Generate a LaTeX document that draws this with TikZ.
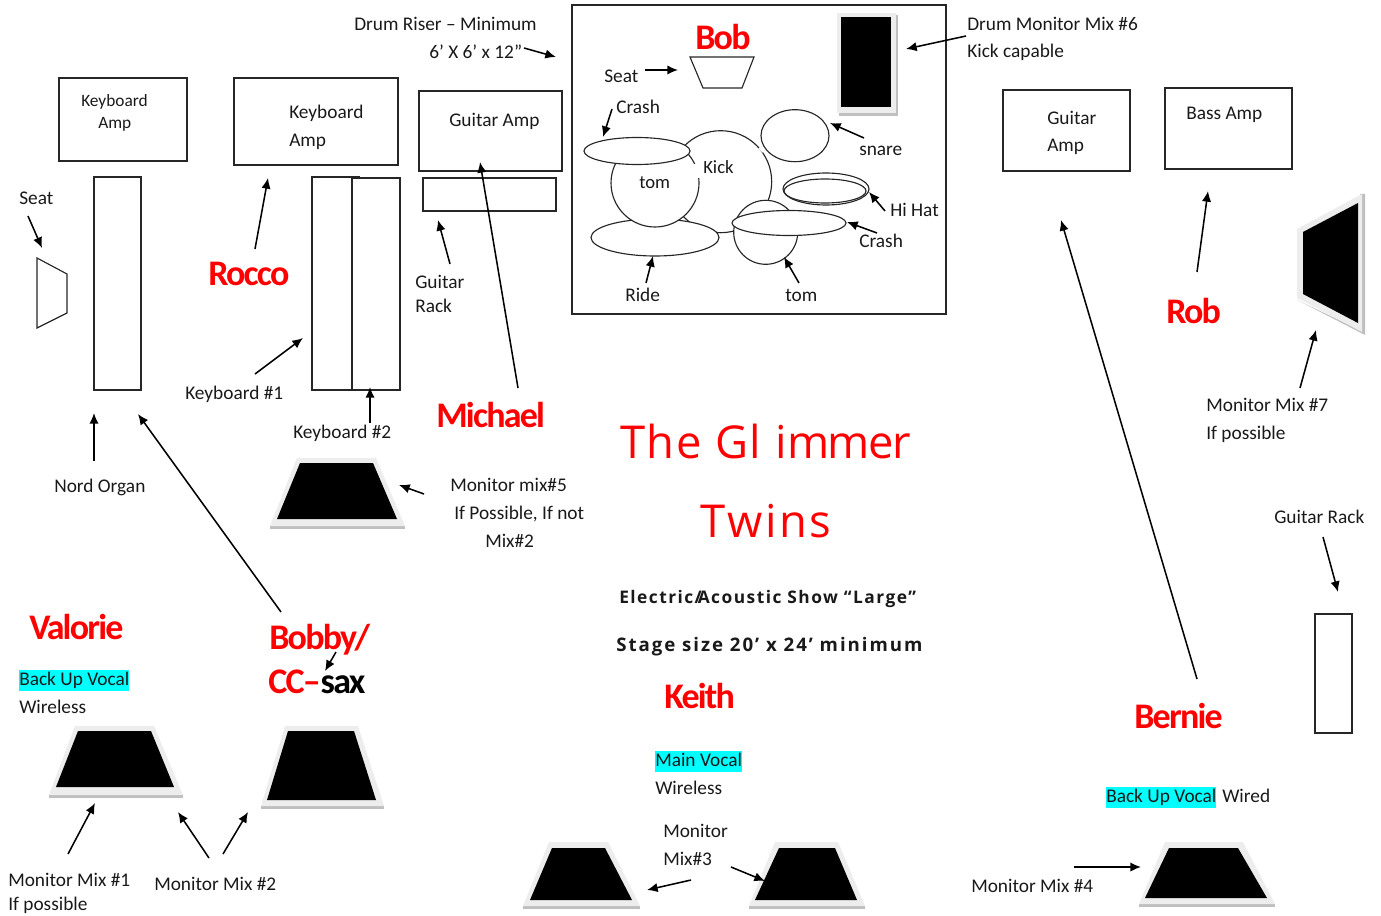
\documentclass[tikz,border=0pt]{standalone}
\usepackage{fontspec}
\usetikzlibrary{arrows.meta}
\setmainfont{Carlito}
\newfontfamily\namefont[LetterSpace=-5]{Carlito Bold}
\newfontfamily\titlefont[LetterSpace=6]{Open Sans}
\newfontfamily\titlemid[LetterSpace=3.5]{Open Sans}
\newfontfamily\titletight[LetterSpace=-3]{Open Sans}
\newfontfamily\subfont[LetterSpace=8.5]{Open Sans Bold}
\newfontfamily\subwide[LetterSpace=10.5]{Open Sans Bold}
\definecolor{monrim}{gray}{0.93}
\definecolor{monedge}{gray}{0.75}
\definecolor{hlcyan}{RGB}{0,255,255}
\tikzset{
  lbl/.style={anchor=base west,inner sep=0pt,yshift=-0.75pt,font=\fontsize{14.5}{16}\selectfont,text=black!90},
  small/.style={lbl,font=\fontsize{13}{15}\selectfont},
  who/.style={anchor=base west,inner sep=0pt,font=\namefont\fontsize{27}{30}\selectfont,text=red},
  ttl/.style={anchor=base west,inner sep=0pt,font=\titlefont\fontsize{34}{38}\selectfont,text=red},
  subt/.style={anchor=base west,inner sep=0pt,font=\subfont\fontsize{13}{15}\selectfont,text=black!90},
  hl/.style={lbl,fill=hlcyan,text height=11.5pt,text depth=4.5pt},
  line/.style={draw=black!85,line width=0.85pt},
  part/.style={line,fill=white},
  conn/.style={draw=black,line width=1.15pt,-{Latex[length=8pt,width=7pt]}}
}
\newcommand{\conn}[3]{\coordinate (#1a) at (#2);\coordinate (#1b) at (#3);\draw[conn] (#1a) -- (#1b);}
% monitor: outer 4 points, inner 4 points (TL,TR,BR,BL)
\newcommand{\mon}[8]{%
  \fill[monedge] ([yshift=-2.2pt]#3) -- ([yshift=-2.2pt]#4) -- (#4) -- (#3) -- cycle;
  \fill[monrim] (#1) -- (#2) -- (#3) -- (#4) -- cycle;
  \fill[black] (#5) -- (#6) -- (#7) -- (#8) -- cycle;}
\begin{document}
\begin{tikzpicture}[x=0.75pt,y=-0.75pt]
\useasboundingbox (0,0) rectangle (1381,916);
% boxes
\draw[line] (59,78) rectangle (187,161);
\draw[line] (234,78) rectangle (398,165);
\draw[line] (419,91) rectangle (562,171);
\draw[line] (423,178) rectangle (556,211);
\draw[line] (94,177) rectangle (141,390);
\draw[line] (312,177) rectangle (359,390);
\draw[part] (352,178) rectangle (400,390);
\draw[line] (37,258) -- (67,274) -- (67,313) -- (37,328) -- cycle;
\draw[line] (1003,90) rectangle (1130,171);
\draw[line] (1165,88) rectangle (1292,169);
\draw[line] (1315,614) rectangle (1352,733);
\draw[line,line width=1pt] (572,5) rectangle (946,314);
\draw[line] (690,57) -- (754,57) -- (742,88) -- (703,88) -- cycle;
% drum monitor
\fill[monedge] (839,15) rectangle (898,116);
\fill[monrim] (837,13) rectangle (896,113);
\fill[black] (841,17) rectangle (891,107);
% kit
\draw[part] (720.7,181.7) circle [radius=51];
\draw[part] (655,237.5) circle [x radius=64,y radius=18.5];
\draw[part] (655,183) circle [radius=44];
\draw[part] (637,151) circle [x radius=53,y radius=13.5];
\fill[white] (691,164) rectangle (738,178);
\draw[white,line width=1.2pt] (759,148) -- (763,152);
\draw[part] (795,135.7) circle [x radius=34,y radius=26];
\draw[line] (826,189) circle [x radius=43,y radius=16];
\draw[line] (825,191) circle [x radius=41,y radius=12];
\draw[part] (765.7,232.3) circle [radius=32];
\draw[part] (789,223) circle [x radius=57,y radius=12.5];
% monitors
\mon{75,726}{154,726}{183,795}{49,795}{78,731}{151,731}{174,787}{56,787}
\mon{285,726}{358,726}{384,806}{261,806}{288,731}{354,731}{376,800}{267,800}
\mon{297,458}{376,458}{405,526}{270,526}{300,463}{373,463}{397,519}{277,519}
\mon{549,842}{608,842}{640,906}{523,906}{552,848}{605,848}{632,900}{530,900}
\mon{775,842}{838,842}{865,906}{749,906}{779,848}{835,848}{857,900}{755,900}
\mon{1165,842}{1243,842}{1275,904}{1139,904}{1169,848}{1238,848}{1267,898}{1145,898}
% side monitor
\fill[monedge] (1297,300) -- (1365,335) -- (1365,194) -- (1360,194) -- (1360,330) -- cycle;
\fill[monrim] (1297,229) -- (1362,194) -- (1362,332) -- (1297,298) -- cycle;
\fill[black] (1303,232) -- (1358,203) -- (1358,323) -- (1303,294) -- cycle;
% text
\node[small] (kb1a) at (81,106) {Keyboard};
\node[small] (kb1b) at (98,128) {Amp};
\node[lbl] (kb2a) at (289,118) {Keyboard};
\node[lbl] (kb2b) at (289,146) {Amp};
\node[lbl] (ga1) at (449,126) {Guitar Amp};
\node[lbl] (riser1) at (354,30) {Drum Riser – Minimum};
\node[lbl] (riser2) at (429,58) {6’ X 6’ x 12”};
\node[lbl] (dm1) at (967,30) {Drum Monitor Mix \#6};
\node[lbl] (dm2) at (967,57) {Kick capable};
\node[lbl] (seatb) at (604,82) {Seat};
\node[lbl] (crasha) at (616,113) {Crash};
\node[lbl,font=\fontsize{14}{16}\selectfont] (kick) at (703,173) {Kick};
\node[lbl,font=\fontsize{14}{16}\selectfont] (toma) at (639,188) {tom};
\node[lbl] (snare) at (859,155) {snare};
\node[lbl] (hihat) at (890,216) {Hi Hat};
\node[lbl] (crashb) at (859,247) {Crash};
\node[lbl] (ride) at (625,300) {Ride};
\node[lbl] (tomb) at (785,300) {tom};
\node[lbl] (seatl) at (19,204) {Seat};
\node[lbl] (nord) at (54,491) {Nord Organ};
\node[lbl] (k1) at (185,398) {Keyboard \#1};
\node[lbl] (k2) at (293,437) {Keyboard \#2};
\node[lbl] (gr1) at (415,287) {Guitar};
\node[lbl] (gr2) at (415,311) {Rack};
\node[lbl] (m5a) at (450,490) {Monitor mix\#5};
\node[lbl] (m5b) at (454,518) {If Possible, If not};
\node[lbl] (m5c) at (485,546) {Mix\#2};
\node[hl] (v1) at (19,684) {Back Up Vocal};
\node[lbl] (v2) at (19,712) {Wireless};
\node[lbl] (m1a) at (8,885) {Monitor Mix \#1};
\node[lbl] (m1b) at (8,909) {If possible};
\node[lbl] (m2) at (154,889) {Monitor Mix \#2};
\node[hl] (kv1) at (655,765) {Main Vocal};
\node[lbl] (kv2) at (655,793) {Wireless};
\node[lbl] (m3a) at (663,836) {Monitor};
\node[lbl] (m3b) at (663,864) {Mix\#3};
\node[hl] (bv1) at (1106,801) {Back Up Vocal};
\node[lbl] (bv2) at (1222,801) {Wired};
\node[lbl] (m4) at (971,891) {Monitor Mix \#4};
\node[lbl] (m7a) at (1206,410) {Monitor Mix \#7};
\node[lbl] (m7b) at (1206,438) {If possible};
\node[lbl] (grr) at (1274,522) {Guitar Rack};
\node[lbl] (ga2a) at (1047,124) {Guitar};
\node[lbl] (ga2b) at (1047,151) {Amp};
\node[lbl] (ba) at (1186,119) {Bass Amp};
% names
\node[who] (bob) at (695,50) {Bob};
\node[who] (rocco) at (208,286) {Rocco};
\node[who] (michael) at (436,427) {Michael};
\node[who] (valorie) at (29,639) {Valorie};
\node[who] (bobby) at (269,649) {Bobby\kern-2pt/};
\node[who] (cc) at (268,693) {CC–\textcolor{black}{sax}};
\node[who] (keith) at (664,708) {Keith};
\node[who] (bernie) at (1134,728) {Bernie};
\node[who] (rob) at (1166,323) {Rob};
\node[ttl] (t1) at (620,458) {{\titlemid The Gl} i{\titletight mmer}};
\node[ttl] (t2) at (700,537) {Twins};
\node[subt] (s1) at (619,603) {Electric\kern1pt/\kern-3pt Acoustic Show “Large”};
\node[subt,font=\subwide\fontsize{14}{16}\selectfont] (s2) at (616,651) {Stage size 20’ x 24’ minimum};
% arrows
\conn{c1}{28,216}{42,248}
\conn{c2}{94,461}{94,413}
\conn{c3}{281,612}{138,414}
\conn{c4}{255,249}{268,178}
\conn{c5}{255,374}{303,338}
\conn{c6}{370,423}{370,387}
\conn{c7}{424,494}{399,485}
\conn{c8}{450,264}{438,220}
\conn{c9}{518,388}{480,162}
\conn{c10}{524,48}{556,57}
\conn{c11}{966,36}{906,49}
\conn{c12}{645,70}{678,70}
\conn{c13}{612,109}{603,137}
\conn{c14}{864,138}{830,123}
\conn{c15}{885,211}{869,192}
\conn{c16}{877,233}{847,222}
\conn{c17}{799,283}{784,257}
\conn{c18}{646,283}{653,256}
\conn{c19}{1197,272}{1208,191}
\conn{c20}{1300,388}{1316,330}
\conn{c21}{1197,679}{1061,220}
\conn{c22}{1323,537}{1338,592}
\conn{c23}{336,652}{325,671}
\conn{c24}{68,854}{95,803}
\conn{c25}{209,858}{178,812}
\conn{c26}{223,854}{248,812}
\conn{c27}{691,880}{647,890}
\conn{c28}{731,867}{765,881}
\conn{c29}{1074,867}{1141,867}
\end{tikzpicture}
\end{document}
